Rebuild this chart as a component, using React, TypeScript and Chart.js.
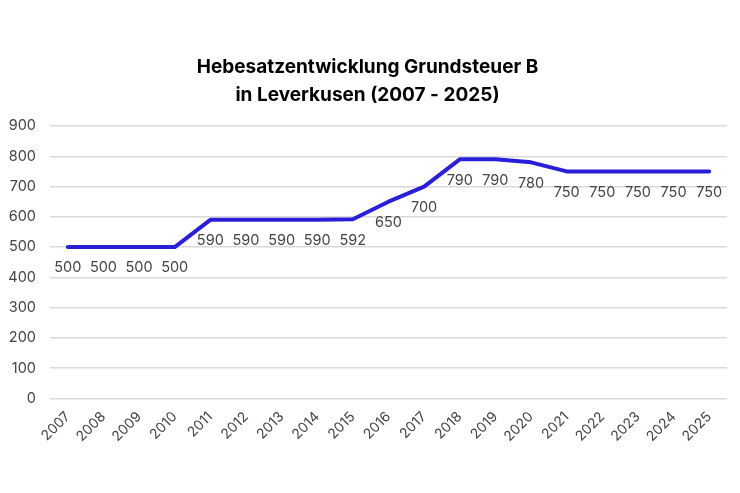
import React, { useEffect, useRef } from 'react';
import { Chart, registerables } from 'chart.js';

Chart.register(...registerables);

const years = [
  '2007', '2008', '2009', '2010', '2011', '2012', '2013', '2014', '2015', '2016',
  '2017', '2018', '2019', '2020', '2021', '2022', '2023', '2024', '2025'
];
const hebesatz = [500, 500, 500, 500, 590, 590, 590, 590, 592, 650, 700, 790, 790, 780, 750, 750, 750, 750, 750];
const titleLines = ['Hebesatzentwicklung Grundsteuer B', 'in Leverkusen (2007 - 2025)'];

const FONT = 'Inter, "Noto Sans", sans-serif';

// draws the value below each point
const valueLabels = {
  id: 'valueLabels',
  afterDatasetsDraw(chart: any) {
    const { ctx } = chart;
    const meta = chart.getDatasetMeta(0);
    ctx.save();
    ctx.font = `14.5px ${FONT}`;
    ctx.fillStyle = '#444444';
    ctx.textAlign = 'center';
    ctx.textBaseline = 'middle';
    meta.data.forEach((pt: any, i: number) => {
      ctx.fillText(String(hebesatz[i]), pt.x, pt.y + 21);
    });
    ctx.restore();
  }
};

const App: React.FC = () => {
  const chartRef = useRef<HTMLCanvasElement | null>(null);
  const chartInstance = useRef<Chart | null>(null);

  useEffect(() => {
    document.body.style.margin = '0';
    if (!chartRef.current) return;
    const ctx = chartRef.current.getContext('2d');
    if (!ctx) return;

    chartInstance.current = new Chart(ctx, {
      type: 'line',
      data: {
        labels: years,
        datasets: [
          {
            label: 'Hebesatz',
            data: hebesatz,
            borderColor: '#2a1fd9',
            borderWidth: 4,
            borderJoinStyle: 'round',
            borderCapStyle: 'round',
            pointRadius: 0,
            tension: 0,
            fill: false
          }
        ]
      },
      options: {
        responsive: true,
        maintainAspectRatio: false,
        animation: false,
        layout: {
          padding: { top: 53, bottom: 46, left: 8, right: 13 }
        },
        plugins: {
          legend: { display: false },
          tooltip: { enabled: false },
          title: {
            display: true,
            text: titleLines,
            color: '#000000',
            font: { family: FONT, size: 19, weight: 'bold', lineHeight: 1.5 },
            padding: { top: 0, bottom: 16 }
          }
        },
        scales: {
          x: {
            offset: true,
            grid: { display: false },
            border: { display: false },
            afterFit(scale: any) {
              scale.paddingLeft = 0;
              scale.paddingRight = 0;
            },
            ticks: {
              color: '#444444',
              font: { family: FONT, size: 14 },
              maxRotation: 45,
              minRotation: 45,
              autoSkip: false,
              padding: 2
            }
          },
          y: {
            min: 0,
            max: 900,
            border: { display: false },
            grid: { color: '#d9d9d9', lineWidth: 1.5, drawTicks: false },
            afterFit(scale: any) {
              scale.width = 42;
            },
            ticks: {
              stepSize: 100,
              color: '#444444',
              font: { family: FONT, size: 14.5 },
              padding: 14
            }
          }
        }
      },
      plugins: [valueLabels]
    });

    return () => {
      if (chartInstance.current) {
        chartInstance.current.destroy();
      }
    };
  }, []);

  return (
    <div style={{ width: '740px', height: '493px', background: '#ffffff' }}>
      <canvas ref={chartRef} />
    </div>
  );
};

export default App;
